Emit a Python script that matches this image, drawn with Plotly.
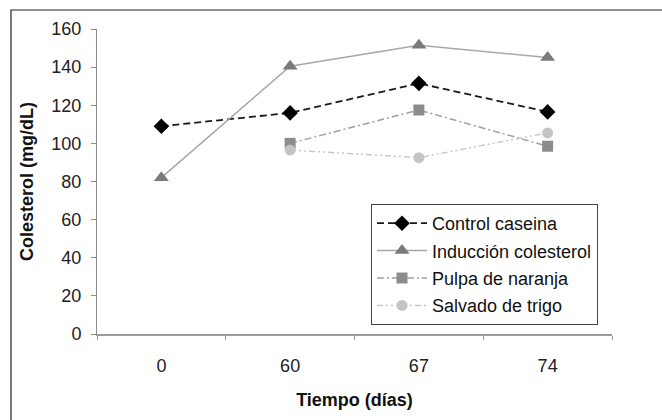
import plotly.graph_objects as go

# Días de medición
dias = ["0", "60", "67", "74"]

# Colesterol (mg/dL) por tratamiento
control_caseina = [109, 116, 131.5, 116.5]
induccion_colesterol = [82, 140.5, 151.5, 145]
pulpa_naranja = [None, 100, 117.5, 98.5]
salvado_trigo = [None, 96.5, 92.5, 105.5]

y_ticks = [0, 20, 40, 60, 80, 100, 120, 140, 160]

fig = go.Figure()

fig.add_trace(go.Scatter(
    x=dias, y=control_caseina, name="Control caseina", mode="lines+markers",
    legendgroup="a",
    line=dict(color="#1a1a1a", width=1.8, dash="7px,4px"),
    marker=dict(symbol="diamond", size=12, color="#000000"),
))
fig.add_trace(go.Scatter(
    x=dias, y=induccion_colesterol, name="Inducción colesterol", mode="lines+markers",
    legendgroup="b",
    line=dict(color="#a8a8a8", width=1.5),
    marker=dict(symbol="triangle-up", size=13, color="#7a7a7a"),
))
fig.add_trace(go.Scatter(
    x=dias, y=pulpa_naranja, name="Pulpa de naranja", mode="lines+markers",
    legendgroup="c",
    line=dict(color="#a0a0a0", width=1.5, dash="7px,3px,2px,3px"),
    marker=dict(symbol="square", size=11, color="#8c8c8c"),
))
fig.add_trace(go.Scatter(
    x=dias, y=salvado_trigo, name="Salvado de trigo", mode="lines+markers",
    legendgroup="d",
    line=dict(color="#c8c8c8", width=1.5, dash="6px,3px,2px,3px,2px,3px"),
    marker=dict(symbol="circle", size=11, color="#c4c4c4"),
))

# Marco exterior del gráfico
L, R, T, B = 97, 612, 29, 334
W, H = R - L, B - T
fig.add_shape(
    type="rect", xref="paper", yref="paper",
    x0=(11 - L) / W, x1=(700 - L) / W,
    y0=(B - 460) / H, y1=(B - 10) / H,
    line=dict(color="#222222", width=1.2), layer="below",
)

fig.update_layout(
    width=662, height=420,
    margin=dict(l=L, r=662 - R, t=T, b=420 - B),
    paper_bgcolor="white", plot_bgcolor="white",
    font=dict(family="Liberation Sans, Arial, sans-serif", size=18, color="#222222"),
    showlegend=True,
    legend=dict(
        x=(371 - L) / W, xanchor="left",
        y=(B - 204) / H, yanchor="top",
        bgcolor="white", bordercolor="#444444", borderwidth=1,
        font=dict(size=18, color="#111111"),
        tracegroupgap=1,
        itemwidth=50,
    ),
    xaxis=dict(
        type="category", range=[-0.5, 3.5],
        showline=True, linecolor="#9a9a9a", linewidth=2,
        ticks="outside", tickson="boundaries", ticklen=4, tickcolor="#9a9a9a",
        showgrid=False, zeroline=False,
        tickfont=dict(size=18, color="#222222"),
        ticklabelstandoff=14,
        title=dict(text="<b>Tiempo (días)</b>", font=dict(size=18, color="#111111"), standoff=19),
    ),
    yaxis=dict(
        range=[0, 160], tickvals=y_ticks,
        showline=True, linecolor="#8a8a8a", linewidth=1,
        ticks="outside", ticklen=5, tickcolor="#8a8a8a",
        showgrid=False, zeroline=False,
        tickfont=dict(size=18, color="#222222"),
        ticklabelstandoff=6,
        title=dict(text="<b>Colesterol (mg/dL)</b>", font=dict(size=18, color="#111111"), standoff=13),
    ),
)

fig.write_html("out.html")
